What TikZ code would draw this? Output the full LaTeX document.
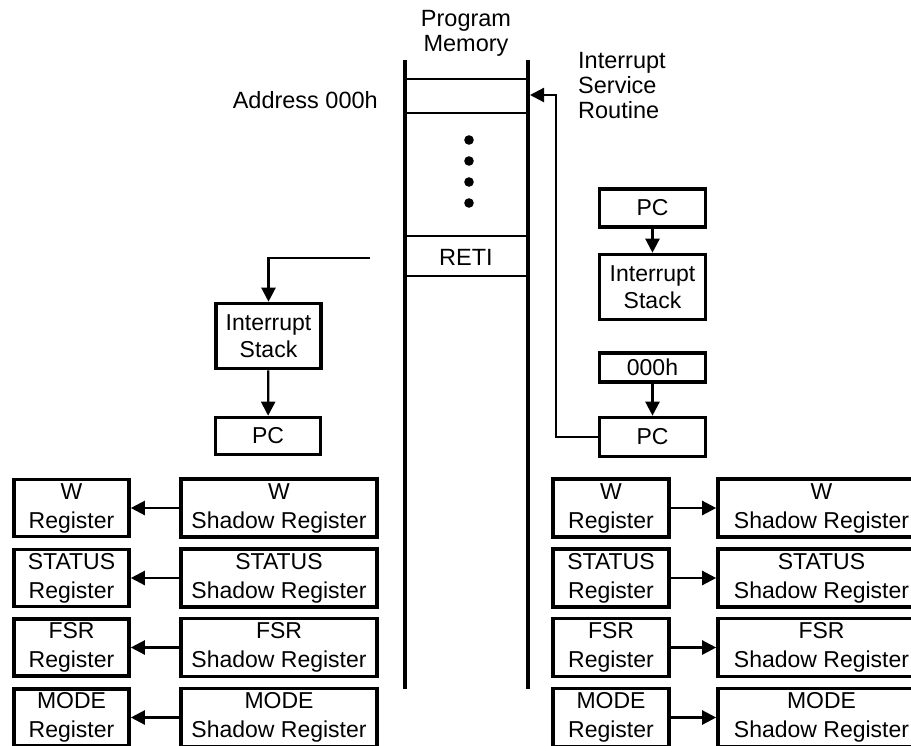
\documentclass[tikz,border=0pt]{standalone}
\usepackage{fontspec}
\setmainfont{Liberation Sans}
\usetikzlibrary{arrows.meta}
\begin{document}
\begin{tikzpicture}[x=1pt,y=-1pt,
  box/.style={draw,line width=3.6pt,inner sep=0pt,align=center,font=\fontsize{23}{27}\selectfont},
  reg/.style={box,font=\fontsize{23}{29}\selectfont},
  conn/.style={line width=2.3pt,-{Triangle[length=14pt,width=14pt]}},
  lbl/.style={inner sep=0pt,font=\fontsize{23.5}{25}\selectfont},
  memv/.style={line width=3.4pt},
  memh/.style={line width=2.6pt}]
\useasboundingbox (0,0) rectangle (911,745);

% program memory
\draw[memv] (405,60) -- (405,689);
\draw[memv] (528,60) -- (528,689);
\foreach \y in {79,113,236,276} \draw[memh] (405,\y) -- (528,\y);
\foreach \y in {140,161,182,203} \fill (469,\y) circle (4.8);
\node[lbl,align=center] (pm) at (466,33) {Program\\Memory};
\node[lbl,anchor=east] (addr) at (378,100) {Address 000h};
\node[lbl,align=left,anchor=west] (isrl) at (578,86) {Interrupt\\Service\\Routine};
\node[lbl] (reti) at (466,257) {RETI};

% right column: interrupt entry
\node[box,minimum width=106pt,minimum height=38pt] (pcR1) at (652.5,208) {PC};
\node[box,minimum width=106pt,minimum height=65pt] (stackR) at (652.5,287) {Interrupt\\Stack};
\node[box,minimum width=106pt,minimum height=29pt] (hexR) at (652.5,367.5) {000h};
\node[box,minimum width=106pt,minimum height=39pt] (pcR2) at (652.5,437) {PC};
\draw[conn] (pcR1) -- (stackR);
\draw[conn] (hexR) -- (pcR2);
\coordinate (isrbend) at (556,437);
\coordinate (isr) at (530,95);
\draw[conn] (pcR2.west) -- (isrbend) |- (isr);

% left column: return
\node[box,minimum width=105pt,minimum height=65pt] (stackL) at (268.5,336) {Interrupt\\Stack};
\node[box,minimum width=105pt,minimum height=37pt] (pcL) at (268,436) {PC};
\coordinate (retfrom) at (370,258);
\draw[conn] (retfrom) -| (stackL.north);
\draw[conn] (stackL) -- (pcL);

% registers
\foreach \n/\y [count=\i] in {W/508,STATUS/578,FSR/647.5,MODE/717.5} {
  \node[reg,minimum width=115pt,minimum height=57pt] (lr\i) at (71.5,\y) {\n\\Register};
  \node[reg,minimum width=196pt,minimum height=58pt] (ls\i) at (279,\y) {\n\\Shadow Register};
  \draw[conn] (ls\i.west) -- (lr\i.east);
  \node[reg,minimum width=116pt,minimum height=58pt] (rr\i) at (611,\y) {\n\\Register};
  \node[reg,minimum width=207pt,minimum height=58pt] (rs\i) at (821.5,\y) {\n\\Shadow Register};
  \draw[conn] (rr\i.east) -- (rs\i.west);
}
\end{tikzpicture}
\end{document}
